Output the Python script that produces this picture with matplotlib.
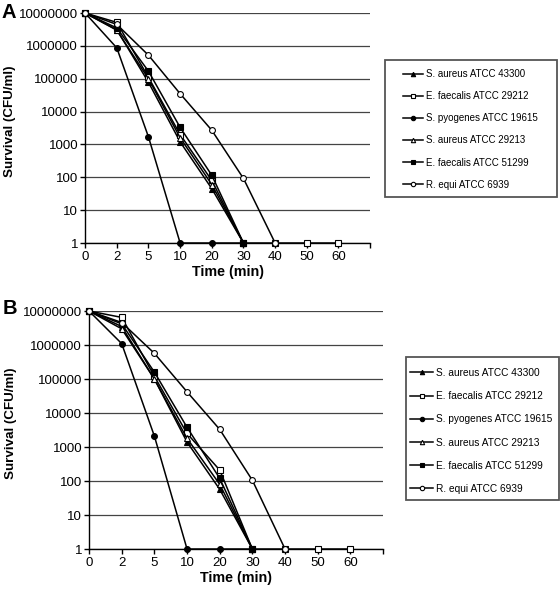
import numpy as np
import matplotlib
matplotlib.use("Agg")
import matplotlib.pyplot as plt
from matplotlib.patches import Rectangle
from matplotlib.ticker import FixedLocator, NullLocator

plt.rcParams['font.family'] = ['Liberation Sans', 'DejaVu Sans']

# --- Data ---
times = ["0", "2", "5", "10", "20", "30", "40", "50", "60"]
strains = ["S. aureus ATCC 43300", "E. faecalis ATCC 29212", "S. pyogenes ATCC 19615",
           "S. aureus ATCC 29213", "E. faecalis ATCC 51299", "R. equi ATCC 6939"]

# survival (CFU/ml), panel A
surv_a = [
    [1e7, 3.1e6, 7.8e4, 1.2e3, 45, 1],
    [1e7, 5.2e6, 1.1e5, 2.0e3, 80, 1, 1, 1, 1],
    [1e7, 8.7e5, 1.7e3, 1, 1, 1],
    [1e7, 3.0e6, 1.0e5, 1.6e3, 60, 1],
    [1e7, 3.5e6, 1.7e5, 3.3e3, 115, 1],
    [1e7, 4.5e6, 5.2e5, 3.5e4, 2.7e3, 92, 1],
]
# panel B
surv_b = [
    [1e7, 3.5e6, 1.0e5, 1.4e3, 57, 1],
    [1e7, 6.5e6, 1.2e5, 2.5e3, 210, 1, 1, 1, 1],
    [1e7, 1.1e6, 2.1e3, 1, 1, 1],
    [1e7, 3.0e6, 1.0e5, 1.8e3, 80, 1],
    [1e7, 4.2e6, 1.6e5, 3.8e3, 120, 1],
    [1e7, 4.6e6, 5.7e5, 4.2e4, 3.3e3, 105, 1],
]

markers = ['^', 's', 'o', '^', 's', 'o']
filled = [True, False, True, False, True, False]

yticks = [1, 10, 100, 1000, 10000, 100000, 1000000, 10000000]


def draw_panel(ax, data, letter, letter_xy, leg_anchor, leg_rect, leg_fs, leg_sp, hlen):
    for vals, name, m, f in zip(data, strains, markers, filled):
        x = np.arange(len(vals))
        ax.plot(x, vals, color='black', lw=1.1, marker=m, ms=4.2,
                mfc='black' if f else 'white', mec='black', mew=0.8,
                label=name, clip_on=False, zorder=3)
    ax.set_yscale('log')
    ax.set_ylim(1, 1e7)
    ax.set_xlim(0, 9)
    ax.yaxis.set_major_locator(FixedLocator(yticks))
    ax.yaxis.set_minor_locator(NullLocator())
    ax.set_yticklabels([str(v) for v in yticks], fontsize=9.5)
    ax.set_xticks(range(len(times) + 1))
    ax.set_xticklabels(times + [""], fontsize=9.5)
    ax.grid(axis='y', color='#444444', lw=0.9)
    ax.set_axisbelow(True)
    for s in ['top', 'right']:
        ax.spines[s].set_visible(False)
    ax.spines['left'].set_linewidth(1.0)
    ax.spines['bottom'].set_linewidth(1.0)
    ax.tick_params(axis='both', length=3.5, width=1.0, direction='out', pad=2)
    ax.tick_params(axis='y', pad=1.5)
    ax.set_xlabel("Time (min)", fontsize=10.3, fontweight='bold', labelpad=2)
    ax.set_ylabel("Survival (CFU/ml)", fontsize=9.6, fontweight='bold')
    ax.yaxis.set_label_coords(-0.244, 0.53)
    fig.text(letter_xy[0], letter_xy[1], letter, fontsize=14.5,
             fontweight='bold', ha='left', va='center')
    ax.legend(loc='upper left', bbox_to_anchor=leg_anchor, bbox_transform=fig.transFigure,
              fontsize=leg_fs, frameon=False, handlelength=hlen, handletextpad=0.3,
              labelspacing=leg_sp, borderpad=0, borderaxespad=0, markerscale=0.75)
    fig.patches.append(Rectangle(leg_rect[:2], leg_rect[2], leg_rect[3],
                                 transform=fig.transFigure, fill=False,
                                 edgecolor='#555555', lw=1.3))


fig = plt.figure(figsize=(5.6, 5.92), dpi=100)
ax_a = fig.add_axes([0.152, 0.5895, 0.509, 0.3885])
ax_b = fig.add_axes([0.159, 0.0726, 0.525, 0.402])

draw_panel(ax_a, surv_a, "A", (0.003, 1 - 12 / 592), (0.7196, 1 - 69 / 592),
           (0.6875, 0.6672, 0.307, 0.2314), 7.0, 1.25, 2.05)
draw_panel(ax_b, surv_b, "B", (0.005, 1 - 308 / 592), (0.732, 1 - 368 / 592),
           (0.725, 0.1554, 0.2732, 0.2416), 7.3, 1.3, 2.3)

fig.savefig("out.png", dpi=100)
